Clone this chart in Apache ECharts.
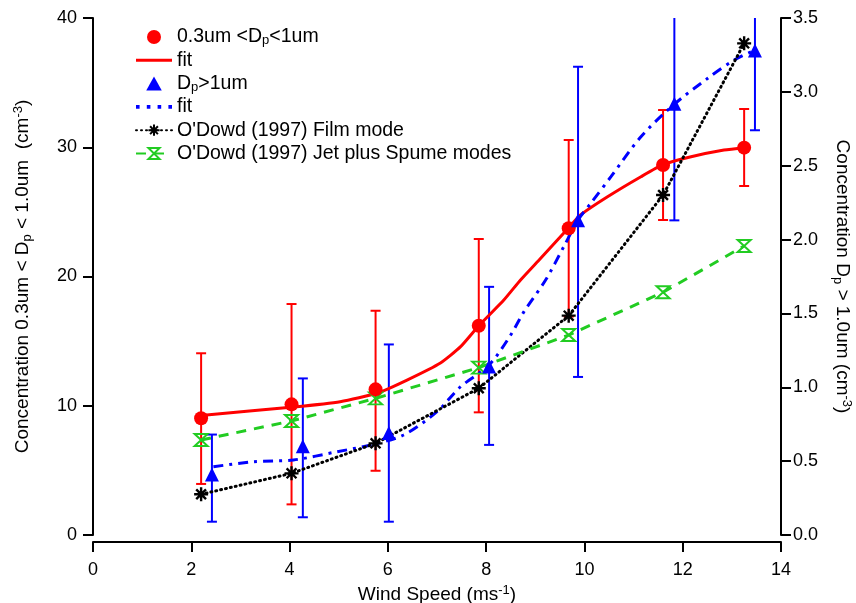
<!DOCTYPE html>
<html>
<head>
<meta charset="utf-8">
<script src="https://cdn.jsdelivr.net/npm/echarts@6/dist/echarts.min.js"></script>
<style>
html,body{margin:0;padding:0;background:#fff;}
#chart{width:856px;height:603px;}
</style>
</head>
<body>
<div id="chart"></div>
<script>
// ---- data ----
const xTicks = [0, 2, 4, 6, 8, 10, 12, 14];
const leftTicks = [0, 10, 20, 30, 40];
const rightTicks = [0.0, 0.5, 1.0, 1.5, 2.0, 2.5, 3.0, 3.5];

const xRed = [2.2, 4.04, 5.75, 7.85, 9.68, 11.6, 13.25];
const redVal = [9.03, 10.11, 11.27, 16.19, 23.73, 28.63, 29.97];
const redLow = [3.95, 2.37, 4.97, 9.49, 16.9, 24.37, 27.0];
const redHigh = [14.06, 17.87, 17.35, 22.9, 30.56, 32.88, 32.96];

const xBlue = [2.42, 4.27, 6.02, 8.06, 9.87, 11.83, 13.47];
const blueVal = [0.41, 0.60, 0.69, 1.14, 2.13, 2.92, 3.28];
const blueLow = [0.09, 0.12, 0.09, 0.61, 1.07, 2.13, 2.74];
const blueHigh = [0.68, 1.06, 1.29, 1.68, 3.17, 3.71, 3.82];

const filmVal = [3.15, 4.77, 7.09, 11.35, 16.97, 26.3, 38.04];
const jetVal = [7.35, 8.82, 10.57, 12.95, 15.47, 18.78, 22.36];

const redFitX = [2.2, 4.08, 5.03, 5.79, 6.39, 7.07, 7.48, 7.85, 8.36, 8.70, 9.11, 9.67, 9.92, 10.47, 11.15, 11.61, 12.17, 12.84, 13.27];
const redFitY = [9.25, 9.9, 10.31, 10.99, 11.99, 13.31, 14.57, 16.19, 18.18, 19.73, 21.41, 23.73, 24.76, 26.17, 27.72, 28.67, 29.27, 29.79, 29.97];

const blueFitX = [2.45, 3.26, 4.08, 4.97, 5.65, 6.32, 7.00, 7.48, 8.06, 8.50, 8.77, 9.21, 9.58, 9.87, 10.13, 10.54, 11.15, 11.81, 12.51, 13.05, 13.47];
const blueFitY = [0.462, 0.496, 0.508, 0.564, 0.609, 0.677, 0.835, 1.004, 1.151, 1.354, 1.512, 1.726, 1.952, 2.133, 2.246, 2.426, 2.696, 2.911, 3.092, 3.216, 3.283];

const names = {
  red: '0.3um <D{sub|p}<1um',
  redFit: 'fit',
  blue: 'D{sub|p}>1um',
  blueFit: 'fit',
  film: "O'Dowd (1997) Film mode",
  jet: "O'Dowd (1997) Jet plus Spume modes"
};

// ---- build ----
const RED = '#ff0000', BLUE = '#0000ff', GREEN = '#22cc22', BLACK = '#000000';
const zip = (xs, ys) => xs.map((x, i) => [x, ys[i]]);
const zip3 = (xs, a, b) => xs.map((x, i) => [x, a[i], b[i]]);

function errRender(color) {
  return function (params, api) {
    const x = api.value(0), lo = api.value(1), hi = api.value(2);
    const p1 = api.coord([x, lo]), p2 = api.coord([x, hi]);
    const hw = 5;
    const st = { stroke: color, lineWidth: 2 };
    return {
      type: 'group',
      children: [
        { type: 'line', shape: { x1: p1[0], y1: p1[1], x2: p2[0], y2: p2[1] }, style: st },
        { type: 'line', shape: { x1: p1[0] - hw, y1: p1[1], x2: p1[0] + hw, y2: p1[1] }, style: st },
        { type: 'line', shape: { x1: p2[0] - hw, y1: p2[1], x2: p2[0] + hw, y2: p2[1] }, style: st }
      ]
    };
  };
}

const starPath = 'path://M5,0 L5,10 M0,5 L10,5 M1.5,1.5 L8.5,8.5 M8.5,1.5 L1.5,8.5';
const hourPath = 'path://M0,0 L10,0 L0,10 L10,10 Z';
const triPath = 'path://M5,0 L10,9 L0,9 Z';
const solidLinePath = 'path://M0,0 L36,0 L36,3 L0,3 Z';
const dotLinePath = 'path://M2,0h3v3h-3z M11,0h3v3h-3z M20,0h3v3h-3z M29,0h3v3h-3z';

const FONT = 'Liberation Sans, Arial, sans-serif';
const richSub = {
  sub: { fontSize: 13, lineHeight: 10, verticalAlign: 'bottom', fontFamily: FONT, color: '#000' },
  sup: { fontSize: 13, lineHeight: 10, verticalAlign: 'top', fontFamily: FONT, color: '#000' }
};

const axisCommon = {
  axisLine: { show: true, onZero: false, lineStyle: { color: '#000', width: 2 } },
  axisTick: { show: true, inside: false, length: 10, lineStyle: { color: '#000', width: 2 } },
  splitLine: { show: false },
  axisLabel: { color: '#000', fontSize: 18, fontFamily: FONT },
  nameTextStyle: { color: '#000', fontSize: 19, fontFamily: FONT, lineHeight: 22, rich: richSub }
};

const option = {
  backgroundColor: '#fff',
  animation: false,
  grid: { left: 93, right: 75, top: 18, bottom: 68, containLabel: false, outerBoundsMode: 'none' },
  legend: {
    orient: 'vertical',
    left: 130,
    top: 22,
    itemWidth: 36,
    itemHeight: 14,
    itemGap: 3.3,
    data: [
      { name: 'red', icon: 'circle' },
      { name: 'redFit ', icon: solidLinePath, itemStyle: { color: RED } },
      { name: 'blue', icon: triPath },
      { name: 'blueFit ', icon: dotLinePath, itemStyle: { color: BLUE } },
      { name: 'film' },
      { name: 'jet' }
    ],
    formatter: function (n) { return names[n.trim()]; },
    textStyle: { color: '#000', fontSize: 19.5, fontFamily: FONT, lineHeight: 20, rich: richSub },
    selectedMode: false
  },
  xAxis: Object.assign({}, axisCommon, {
    type: 'value', min: xTicks[0], max: xTicks[xTicks.length - 1], interval: 2,
    position: 'bottom',
    offset: 7,
    name: 'Wind Speed (ms{sup|-1})', nameLocation: 'middle', nameGap: 28,
    axisLabel: Object.assign({}, axisCommon.axisLabel, { margin: 19 })
  }),
  yAxis: [
    Object.assign({}, axisCommon, {
      type: 'value', min: leftTicks[0], max: leftTicks[leftTicks.length - 1], interval: 10,
      position: 'left',
      name: 'Concentration 0.3um < D{sub|p} < 1.0um  (cm{sup|-3})', nameLocation: 'middle', nameGap: 59, nameRotate: 90,
      axisLabel: Object.assign({}, axisCommon.axisLabel, { margin: 16 })
    }),
    Object.assign({}, axisCommon, {
      type: 'value', min: rightTicks[0], max: rightTicks[rightTicks.length - 1], interval: 0.5,
      position: 'right',
      name: 'Concentration D{sub|p} > 1.0um (cm{sup|-3})', nameLocation: 'middle', nameGap: 50, nameRotate: -90,
      axisLabel: Object.assign({}, axisCommon.axisLabel, { margin: 12, formatter: v => v.toFixed(1) })
    })
  ],
  series: [
    { type: 'custom', name: 'redErr', yAxisIndex: 0, clip: true, z: 2, renderItem: errRender(RED), encode: { x: 0, y: [1, 2] }, data: zip3(xRed, redLow, redHigh) },
    { type: 'custom', name: 'blueErr', yAxisIndex: 1, clip: true, z: 2, renderItem: errRender(BLUE), encode: { x: 0, y: [1, 2] }, data: zip3(xBlue, blueLow, blueHigh) },
    {
      name: 'redFit ', type: 'line', yAxisIndex: 0, smooth: 0.2, showSymbol: false, symbol: 'none', z: 3,
      lineStyle: { color: RED, width: 3 }, itemStyle: { color: RED },
      data: zip(redFitX, redFitY)
    },
    {
      name: 'blueFit ', type: 'line', yAxisIndex: 1, smooth: 0.3, showSymbol: false, symbol: 'none', z: 3,
      lineStyle: { color: BLUE, width: 3, type: [10, 6, 3, 6] }, itemStyle: { color: BLUE },
      data: zip(blueFitX, blueFitY)
    },
    {
      name: 'film', type: 'line', yAxisIndex: 0, symbol: starPath, symbolSize: 14, z: 4,
      lineStyle: { color: BLACK, width: 3, type: [1, 4], cap: 'round' },
      itemStyle: { color: 'rgba(0,0,0,0)', borderColor: BLACK, borderWidth: 2.4 },
      data: zip(xRed, filmVal)
    },
    {
      name: 'jet', type: 'line', yAxisIndex: 0, symbol: hourPath, symbolSize: [13, 12], z: 4,
      lineStyle: { color: GREEN, width: 3, type: [10, 8] },
      itemStyle: { color: 'rgba(0,0,0,0)', borderColor: GREEN, borderWidth: 2 },
      data: zip(xRed, jetVal)
    },
    {
      name: 'red', type: 'scatter', yAxisIndex: 0, symbol: 'circle', symbolSize: 14, z: 5,
      itemStyle: { color: RED, opacity: 1 },
      data: zip(xRed, redVal)
    },
    {
      name: 'blue', type: 'scatter', yAxisIndex: 1, symbol: 'triangle', symbolSize: 14, z: 5,
      itemStyle: { color: BLUE, opacity: 1 },
      data: zip(xBlue, blueVal)
    }
  ]
};

const chart = echarts.init(document.getElementById('chart'), null, { renderer: 'canvas' });
chart.setOption(option);
</script>
</body>
</html>
